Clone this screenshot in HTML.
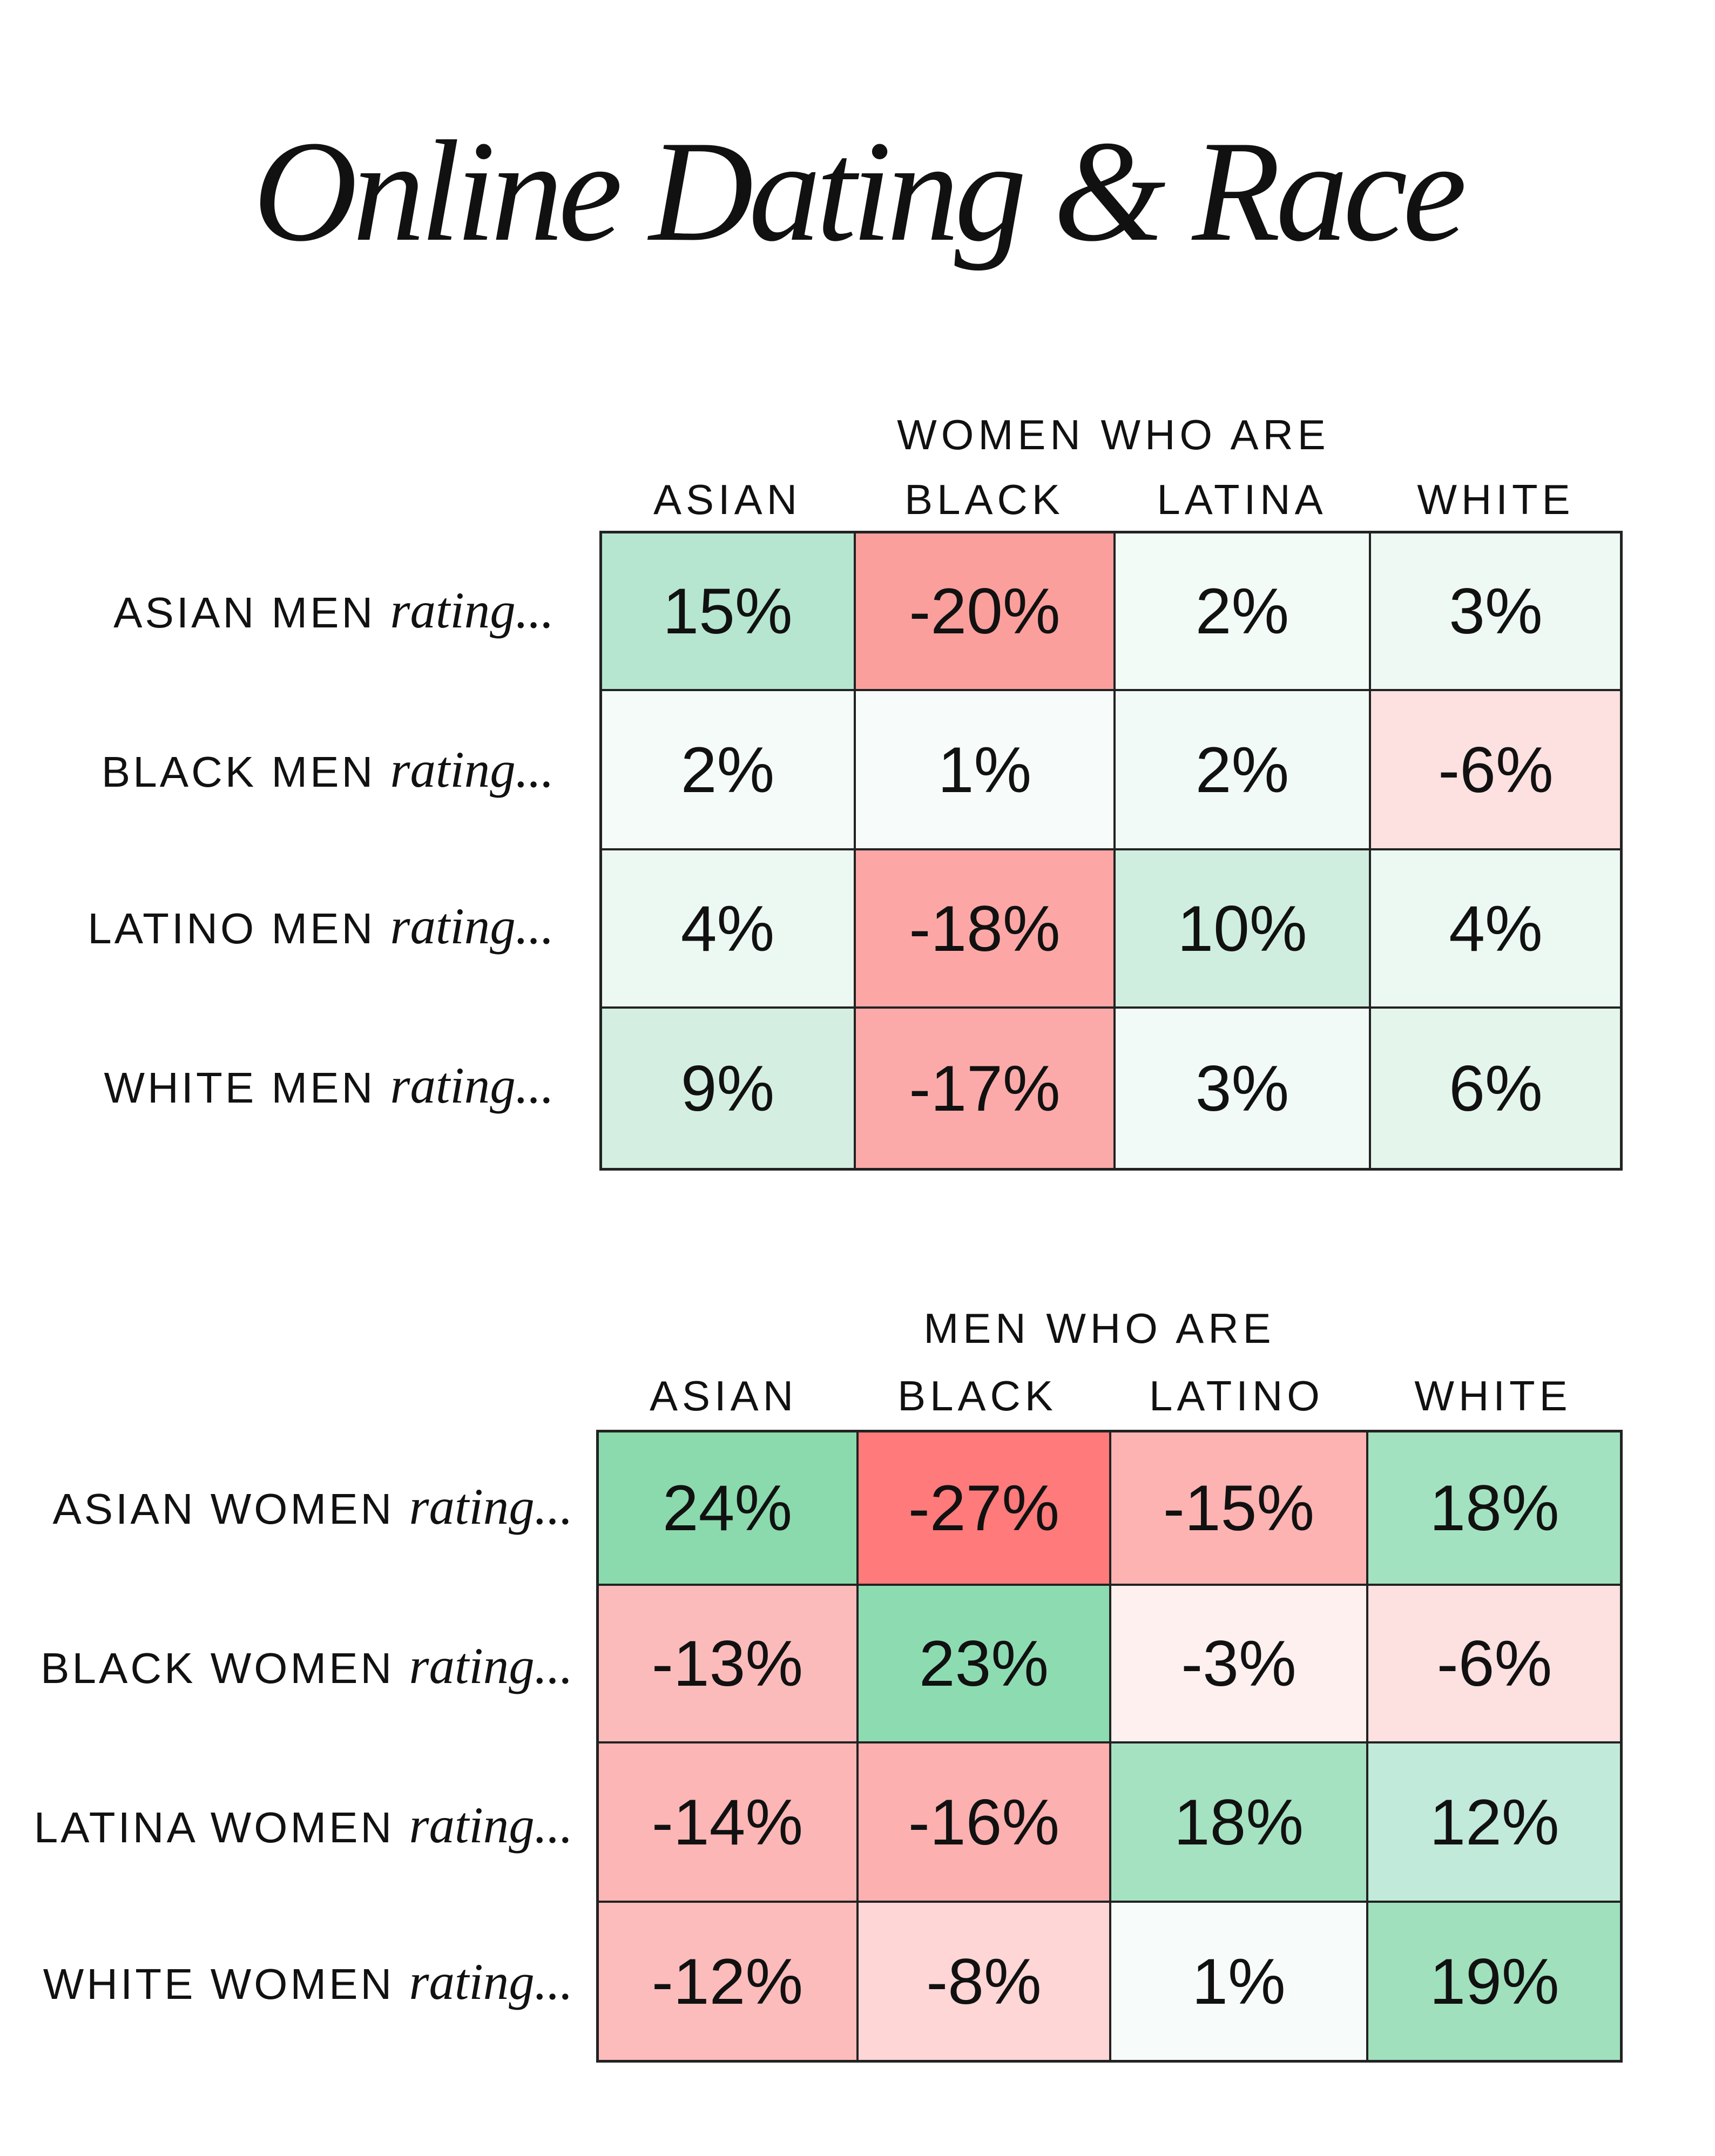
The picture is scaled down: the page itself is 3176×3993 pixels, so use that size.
<!DOCTYPE html>
<html><head><meta charset="utf-8"><style>
body{margin:0;background:#fff;}
#p{position:relative;width:3176px;height:3993px;background:#fff;overflow:hidden;font-family:"Liberation Sans",sans-serif;color:#111;}
.t{position:absolute;white-space:nowrap;}
.title{left:0;width:3176px;text-align:center;top:200px;font-family:"Liberation Serif",serif;font-style:italic;font-size:268px;letter-spacing:-9px;}
.tb{position:absolute;border:5px solid #222;box-sizing:border-box;}
.c{position:absolute;box-sizing:border-box;border:2.5px solid #222;display:flex;align-items:center;justify-content:center;font-size:120px;}
.h{font-size:78px;letter-spacing:8px;transform:translateX(-50%);}
.r{font-size:80px;letter-spacing:5px;text-align:right;}
.r i{font-family:"Liberation Serif",serif;font-size:95px;letter-spacing:0;}
</style></head><body><div id="p">
<div class="t title">Online Dating &amp; Race</div>

<div class="t h" style="left:2062px;top:760px">WOMEN WHO ARE</div>
<div class="t h" style="left:1347px;top:880px">ASIAN</div>
<div class="t h" style="left:1823px;top:880px">BLACK</div>
<div class="t h" style="left:2300px;top:880px">LATINA</div>
<div class="t h" style="left:2770px;top:880px">WHITE</div>

<div class="t r" style="right:2150px;top:1075px">ASIAN MEN <i>rating...</i></div>
<div class="t r" style="right:2150px;top:1370px">BLACK MEN <i>rating...</i></div>
<div class="t r" style="right:2150px;top:1660px">LATINO MEN <i>rating...</i></div>
<div class="t r" style="right:2150px;top:1955px">WHITE MEN <i>rating...</i></div>

<div class="t h" style="left:2036px;top:2415px">MEN WHO ARE</div>
<div class="t h" style="left:1340px;top:2540px">ASIAN</div>
<div class="t h" style="left:1810px;top:2540px">BLACK</div>
<div class="t h" style="left:2290px;top:2540px">LATINO</div>
<div class="t h" style="left:2765px;top:2540px">WHITE</div>

<div class="t r" style="right:2115px;top:2735px">ASIAN WOMEN <i>rating...</i></div>
<div class="t r" style="right:2115px;top:3030px">BLACK WOMEN <i>rating...</i></div>
<div class="t r" style="right:2115px;top:3325px">LATINA WOMEN <i>rating...</i></div>
<div class="t r" style="right:2115px;top:3615px">WHITE WOMEN <i>rating...</i></div>

<!-- table 1 -->
<div class="c" style="left:1112px;top:985px;width:471px;height:293px;background:#b6e6d0">15%</div>
<div class="c" style="left:1583px;top:985px;width:481px;height:293px;background:#fb9f9d">-20%</div>
<div class="c" style="left:2064px;top:985px;width:473px;height:293px;background:#f3fbf7">2%</div>
<div class="c" style="left:2537px;top:985px;width:466px;height:293px;background:#eef9f3">3%</div>

<div class="c" style="left:1112px;top:1278px;width:471px;height:295px;background:#f4fbf8">2%</div>
<div class="c" style="left:1583px;top:1278px;width:481px;height:295px;background:#f7fcfa">1%</div>
<div class="c" style="left:2064px;top:1278px;width:473px;height:295px;background:#f1faf6">2%</div>
<div class="c" style="left:2537px;top:1278px;width:466px;height:295px;background:#fde0e0">-6%</div>

<div class="c" style="left:1112px;top:1573px;width:471px;height:293px;background:#ecf8f2">4%</div>
<div class="c" style="left:1583px;top:1573px;width:481px;height:293px;background:#fca7a6">-18%</div>
<div class="c" style="left:2064px;top:1573px;width:473px;height:293px;background:#d0eee0">10%</div>
<div class="c" style="left:2537px;top:1573px;width:466px;height:293px;background:#ecf8f2">4%</div>

<div class="c" style="left:1112px;top:1866px;width:471px;height:300px;background:#d4efe2">9%</div>
<div class="c" style="left:1583px;top:1866px;width:481px;height:300px;background:#fcaaa9">-17%</div>
<div class="c" style="left:2064px;top:1866px;width:473px;height:300px;background:#f1faf6">3%</div>
<div class="c" style="left:2537px;top:1866px;width:466px;height:300px;background:#e4f5ec">6%</div>
<div class="tb" style="left:1110px;top:983px;width:1895px;height:1185px"></div>

<!-- table 2 -->
<div class="c" style="left:1106px;top:2650px;width:482px;height:285px;background:#8adaad">24%</div>
<div class="c" style="left:1588px;top:2650px;width:468px;height:285px;background:#ff7a7a">-27%</div>
<div class="c" style="left:2056px;top:2650px;width:476px;height:285px;background:#fdb3b2">-15%</div>
<div class="c" style="left:2532px;top:2650px;width:471px;height:285px;background:#a3e2c0">18%</div>

<div class="c" style="left:1106px;top:2935px;width:482px;height:292px;background:#fcbbbb">-13%</div>
<div class="c" style="left:1588px;top:2935px;width:468px;height:292px;background:#8ddcb1">23%</div>
<div class="c" style="left:2056px;top:2935px;width:476px;height:292px;background:#fff0f0">-3%</div>
<div class="c" style="left:2532px;top:2935px;width:471px;height:292px;background:#fde0e0">-6%</div>

<div class="c" style="left:1106px;top:3227px;width:482px;height:295px;background:#fcb6b5">-14%</div>
<div class="c" style="left:1588px;top:3227px;width:468px;height:295px;background:#fcb0af">-16%</div>
<div class="c" style="left:2056px;top:3227px;width:476px;height:295px;background:#a4e2c1">18%</div>
<div class="c" style="left:2532px;top:3227px;width:471px;height:295px;background:#c1eada">12%</div>

<div class="c" style="left:1106px;top:3522px;width:482px;height:296px;background:#fcbcbb">-12%</div>
<div class="c" style="left:1588px;top:3522px;width:468px;height:296px;background:#fed6d6">-8%</div>
<div class="c" style="left:2056px;top:3522px;width:476px;height:296px;background:#f7fcfa">1%</div>
<div class="c" style="left:2532px;top:3522px;width:471px;height:296px;background:#a0e0bd">19%</div>
<div class="tb" style="left:1104px;top:2648px;width:1901px;height:1172px"></div>
</div></body></html>
